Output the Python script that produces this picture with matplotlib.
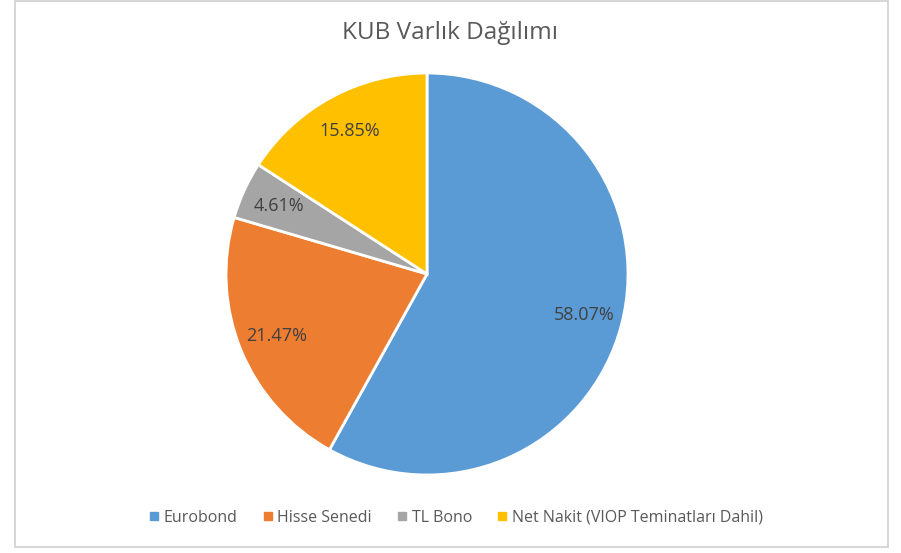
import matplotlib
matplotlib.use("Agg")
import matplotlib.pyplot as plt
from matplotlib.patches import Rectangle
from matplotlib.lines import Line2D

plt.rcParams['font.family'] = ['Open Sans', 'DejaVu Sans']

categories = ["Eurobond", "Hisse Senedi", "TL Bono", "Net Nakit (VIOP Teminatları Dahil)"]
values = [58.07, 21.47, 4.61, 15.85]
colors = ["#5B9BD5", "#ED7D31", "#A5A5A5", "#FFC000"]
title = "KUB Varlık Dağılımı"

W, H = 901, 553
fig = plt.figure(figsize=(W / 100, H / 100), dpi=100)
fig.patch.set_facecolor("white")

# chart frame
fig.add_artist(Rectangle((15 / W, 1 - 547 / H), (888 - 15) / W, 547 / H - 0.002,
                         transform=fig.transFigure, fill=False,
                         edgecolor="#D0D0D0", linewidth=1.2))

cx, cy, r = 427, 274, 205
ax = fig.add_axes([(cx - r) / W, 1 - (cy + r) / H, 2 * r / W, 2 * r / H])
wedges, texts, autotexts = ax.pie(
    values, colors=colors, startangle=90, counterclock=False,
    autopct=lambda p: f"{p:.2f}%", pctdistance=0.81,
    wedgeprops=dict(edgecolor="white", linewidth=2),
    textprops=dict(color="#404040", fontsize=13))
ax.set_xlim(-1.02, 1.02)
ax.set_ylim(-1.02, 1.02)
ax.set_aspect("equal")
ax.axis("off")

fig.text(450 / W, 1 - 33 / H, title, ha="center", va="center",
         fontsize=17.5, color="#595959")

handles = [Line2D([], [], marker="s", linestyle="none", markersize=6,
                  markerfacecolor=c, markeredgecolor=c) for c in colors]
fig.legend(handles, categories, loc="center", bbox_to_anchor=(456 / W, 1 - 518 / H),
           ncol=4, frameon=False, fontsize=11.5, handlelength=0.6,
           handletextpad=0.3, columnspacing=1.6, labelcolor="#595959")

fig.savefig("out.png", dpi=100)
